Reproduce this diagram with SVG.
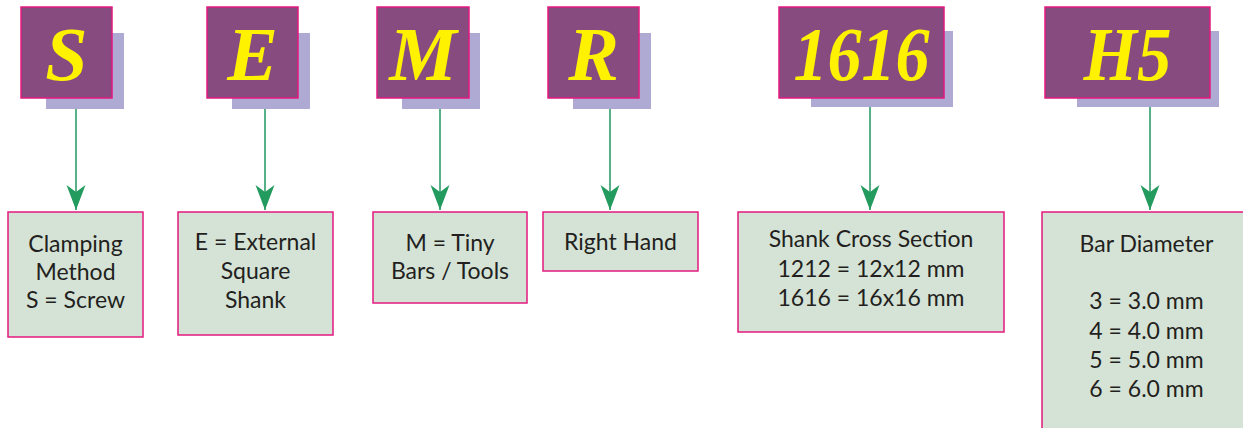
<svg xmlns="http://www.w3.org/2000/svg" width="1243" height="428" viewBox="0 0 1243 428">
<style>
.shadow{fill:#afaad3}
.code{fill:#874b80;stroke:#e4197f;stroke-width:1.5}
.letter{font-family:"Liberation Serif",serif;font-weight:bold;font-style:italic;font-size:76px;fill:#fff200;text-anchor:middle}
.desc{fill:#d5e3d6;stroke:#e4197f;stroke-width:1.5}
.txt{font-family:Lato,"Open Sans",sans-serif;font-size:23px;fill:#231f20;text-anchor:middle}
.conn{stroke:#2e9e6a;stroke-width:1.6;fill:none;marker-end:url(#arr)}
</style>
<defs>
<marker id="arr" viewBox="-25 -10 26 20" refX="0" refY="0" markerWidth="26" markerHeight="20" markerUnits="userSpaceOnUse" orient="auto">
<path d="M-25,-9.5 L0,0 L-25,9.5 L-18,0 z" fill="#239a5e"/>
</marker>
</defs>

<g id="connectors">
<line class="conn" x1="76" y1="109" x2="76" y2="210"/>
<line class="conn" x1="265" y1="109" x2="265" y2="210"/>
<line class="conn" x1="440" y1="109" x2="440" y2="210"/>
<line class="conn" x1="610" y1="109" x2="610" y2="210"/>
<line class="conn" x1="870" y1="107" x2="870" y2="210"/>
<line class="conn" x1="1150" y1="107" x2="1150" y2="210"/>
</g>

<g id="code-S">
<rect class="shadow" x="46" y="33" width="78" height="76"/>
<rect class="code" x="21" y="7" width="91" height="91"/>
<text class="letter" x="66.5" y="80">S</text>
</g>
<g id="code-E">
<rect class="shadow" x="232" y="33" width="78" height="76"/>
<rect class="code" x="207" y="7" width="91" height="91"/>
<text class="letter" x="252.5" y="80">E</text>
</g>
<g id="code-M">
<rect class="shadow" x="402" y="33" width="78" height="76"/>
<rect class="code" x="377" y="7" width="92" height="91"/>
<text class="letter" x="423" y="80">M</text>
</g>
<g id="code-R">
<rect class="shadow" x="573" y="33" width="78" height="76"/>
<rect class="code" x="548" y="7" width="91" height="91"/>
<text class="letter" x="593.5" y="80">R</text>
</g>
<g id="code-1616">
<rect class="shadow" x="811" y="31" width="142" height="76"/>
<rect class="code" x="779" y="7" width="165" height="91"/>
<text class="letter" x="861.5" y="80" textLength="136" lengthAdjust="spacingAndGlyphs">1616</text>
</g>
<g id="code-H5">
<rect class="shadow" x="1077" y="31" width="142" height="76"/>
<rect class="code" x="1045" y="7" width="165" height="91"/>
<text class="letter" x="1127.5" y="80" textLength="88" lengthAdjust="spacingAndGlyphs">H5</text>
</g>

<g id="desc-clamping">
<rect class="desc" x="8" y="212" width="135" height="125"/>
<text class="txt" x="75.5" y="252">Clamping</text>
<text class="txt" x="75.5" y="280">Method</text>
<text class="txt" x="75.5" y="308">S = Screw</text>
</g>
<g id="desc-shank">
<rect class="desc" x="178" y="212" width="155" height="123"/>
<text class="txt" x="255.5" y="250">E = External</text>
<text class="txt" x="255.5" y="279">Square</text>
<text class="txt" x="255.5" y="308">Shank</text>
</g>
<g id="desc-tiny">
<rect class="desc" x="373" y="212" width="154" height="91"/>
<text class="txt" x="450" y="251">M = Tiny</text>
<text class="txt" x="450" y="279">Bars / Tools</text>
</g>
<g id="desc-hand">
<rect class="desc" x="543" y="212" width="155" height="59"/>
<text class="txt" x="620.5" y="250">Right Hand</text>
</g>
<g id="desc-section">
<rect class="desc" x="738" y="212" width="266" height="120"/>
<text class="txt" x="871" y="247">Shank Cross Section</text>
<text class="txt" x="871" y="277">1212 = 12x12 mm</text>
<text class="txt" x="871" y="306">1616 = 16x16 mm</text>
</g>
<g id="desc-diameter">
<rect class="desc" x="1042" y="212" width="210" height="230"/>
<text class="txt" x="1146.5" y="252">Bar Diameter</text>
<text class="txt" x="1146.5" y="309">3 = 3.0 mm</text>
<text class="txt" x="1146.5" y="339">4 = 4.0 mm</text>
<text class="txt" x="1146.5" y="368">5 = 5.0 mm</text>
<text class="txt" x="1146.5" y="397">6 = 6.0 mm</text>
</g>
</svg>
